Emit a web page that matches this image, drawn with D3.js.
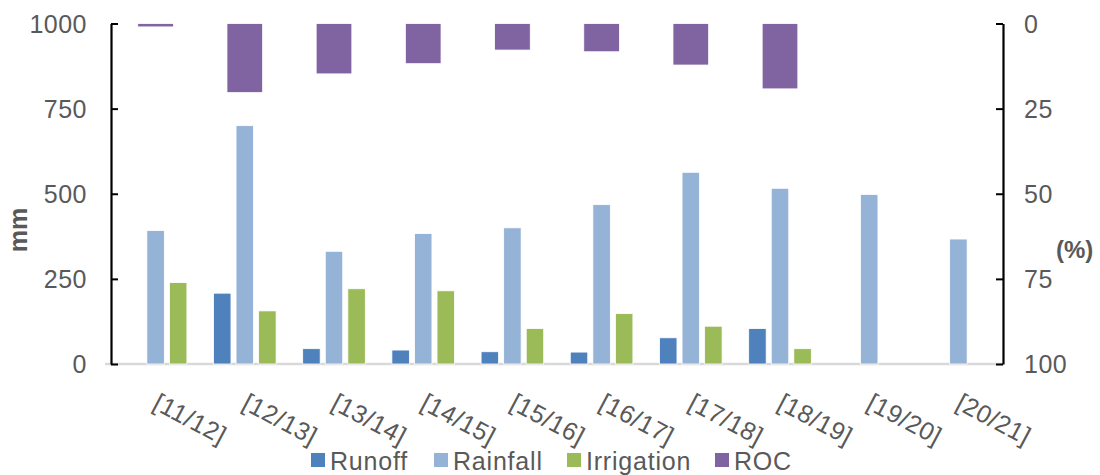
<!DOCTYPE html>
<html>
<head>
<meta charset="utf-8">
<script src="https://cdn.jsdelivr.net/npm/d3@7"></script>
<style>
  html, body { margin: 0; padding: 0; background: #fff; }
  svg { display: block; font-family: "Liberation Sans", Arial, sans-serif; }
</style>
</head>
<body>
<svg id="chart" width="1100" height="475"></svg>
<script>
// ---- data ----
const categories = ["[11/12]", "[12/13]", "[13/14]", "[14/15]", "[15/16]", "[16/17]", "[17/18]", "[18/19]", "[19/20]", "[20/21]"];
const runoff     = [null, 208, 45, 41, 36, 35, 77, 104, null, null];
const rainfall   = [392, 700, 331, 383, 400, 468, 563, 516, 498, 367];
const irrigation = [239, 156, 221, 215, 104, 148, 111, 45, null, null];
const roc        = [1, 20.3, 14.8, 11.8, 7.8, 8.3, 12.2, 19.2, null, null];
const leftTicks  = [0, 250, 500, 750, 1000];
const rightTicks = [0, 25, 50, 75, 100];
const seriesNames = ["Runoff", "Rainfall", "Irrigation", "ROC"];

const colors = { Runoff: "#4F81BD", Rainfall: "#95B3D7", Irrigation: "#9BBB59", ROC: "#8064A2" };

const svg = d3.select("#chart");
const plotL = 111, plotR = 1003, plotT = 23.5, plotB = 364;
const FS = 25;

const x = d3.scaleBand().domain(categories).range([plotL, plotR]).paddingInner(0).paddingOuter(0);
const yL = d3.scaleLinear().domain([0, 1000]).range([plotB, plotT]);
const yR = d3.scaleLinear().domain([0, 100]).range([plotT, plotB]);

const step = x.bandwidth();
const barW = step * 0.196;
const barGap = step * 0.057;
const rocW = step * 0.40;

const primary = [
  { name: "Runoff", values: runoff, offset: -1 },
  { name: "Rainfall", values: rainfall, offset: 0 },
  { name: "Irrigation", values: irrigation, offset: 1 }
];

// baseline (category axis)
svg.append("line")
  .attr("x1", plotL - 6).attr("x2", plotR)
  .attr("y1", plotB).attr("y2", plotB)
  .attr("stroke", "#d9d9d9").attr("stroke-width", 2.5);

// primary bars
primary.forEach(s => {
  svg.append("g").selectAll("rect")
    .data(categories.map((c, i) => ({ c, v: s.values[i] })).filter(d => d.v != null))
    .join("rect")
    .attr("x", d => x(d.c) + step / 2 + s.offset * (barW + barGap) - barW / 2)
    .attr("width", barW)
    .attr("y", d => yL(d.v))
    .attr("height", d => yL(0) - yL(d.v))
    .attr("fill", colors[s.name])
    .attr("stroke", "#ffffff").attr("stroke-width", 0.8);
});

// ROC bars (secondary, reversed axis, hanging from top)
svg.append("g").selectAll("rect")
  .data(categories.map((c, i) => ({ c, v: roc[i] })).filter(d => d.v != null))
  .join("rect")
  .attr("x", d => x(d.c) + step / 2 - rocW / 2)
  .attr("width", rocW)
  .attr("y", yR(0))
  .attr("height", d => yR(d.v) - yR(0))
  .attr("fill", colors.ROC)
  .attr("stroke", "#ffffff").attr("stroke-width", 0.8);

// left axis
const axL = d3.axisLeft(yL).tickValues(leftTicks).tickFormat(d3.format("d"))
  .tickSizeInner(-7).tickSizeOuter(0).tickPadding(24);
const gL = svg.append("g").attr("transform", `translate(${plotL},0)`).call(axL);
gL.select(".domain").attr("stroke", "#000").attr("stroke-width", 2.2);
gL.selectAll(".tick line").attr("stroke", "#000").attr("stroke-width", 2);
gL.selectAll(".tick text").attr("fill", "#595959").attr("font-size", FS)
  .attr("font-family", "Liberation Sans, Arial, sans-serif").attr("dy", "0.35em")
  .attr("letter-spacing", 0.5);

// right axis
const axR = d3.axisRight(yR).tickValues(rightTicks).tickFormat(d3.format("d"))
  .tickSizeInner(-7).tickSizeOuter(0).tickPadding(21);
const gR = svg.append("g").attr("transform", `translate(${plotR},0)`).call(axR);
gR.select(".domain").attr("stroke", "#000").attr("stroke-width", 2.2);
gR.selectAll(".tick line").attr("stroke", "#000").attr("stroke-width", 2);
gR.selectAll(".tick text").attr("fill", "#595959").attr("font-size", FS)
  .attr("font-family", "Liberation Sans, Arial, sans-serif").attr("dy", "0.35em")
  .attr("letter-spacing", 0.5);

// category labels (rotated)
svg.append("g").selectAll("text")
  .data(categories)
  .join("text")
  .attr("transform", d => `translate(${x(d) + step / 2 - 4},408) rotate(28)`)
  .attr("text-anchor", "start")
  .attr("fill", "#595959")
  .attr("font-size", FS)
  .attr("letter-spacing", 0.5)
  .text(d => d);

// axis titles
svg.append("text")
  .attr("transform", "translate(27,230) rotate(-90)")
  .attr("text-anchor", "middle")
  .attr("font-weight", "bold").attr("font-size", FS).attr("fill", "#595959")
  .text("mm");
svg.append("text")
  .attr("x", 1056).attr("y", 258)
  .attr("font-weight", "bold").attr("font-size", 24).attr("fill", "#595959")
  .text("(%)");

// legend
const legendX = [311, 434, 567, 715];
const lg = svg.append("g").selectAll("g")
  .data(seriesNames)
  .join("g")
  .attr("transform", (d, i) => `translate(${legendX[i]},453)`);
lg.append("rect").attr("width", 14).attr("height", 14).attr("fill", d => colors[d]);
lg.append("text").attr("x", 19).attr("y", 16.5)
  .attr("font-size", FS).attr("letter-spacing", 0.8).attr("fill", "#595959").text(d => d);
</script>
</body>
</html>
